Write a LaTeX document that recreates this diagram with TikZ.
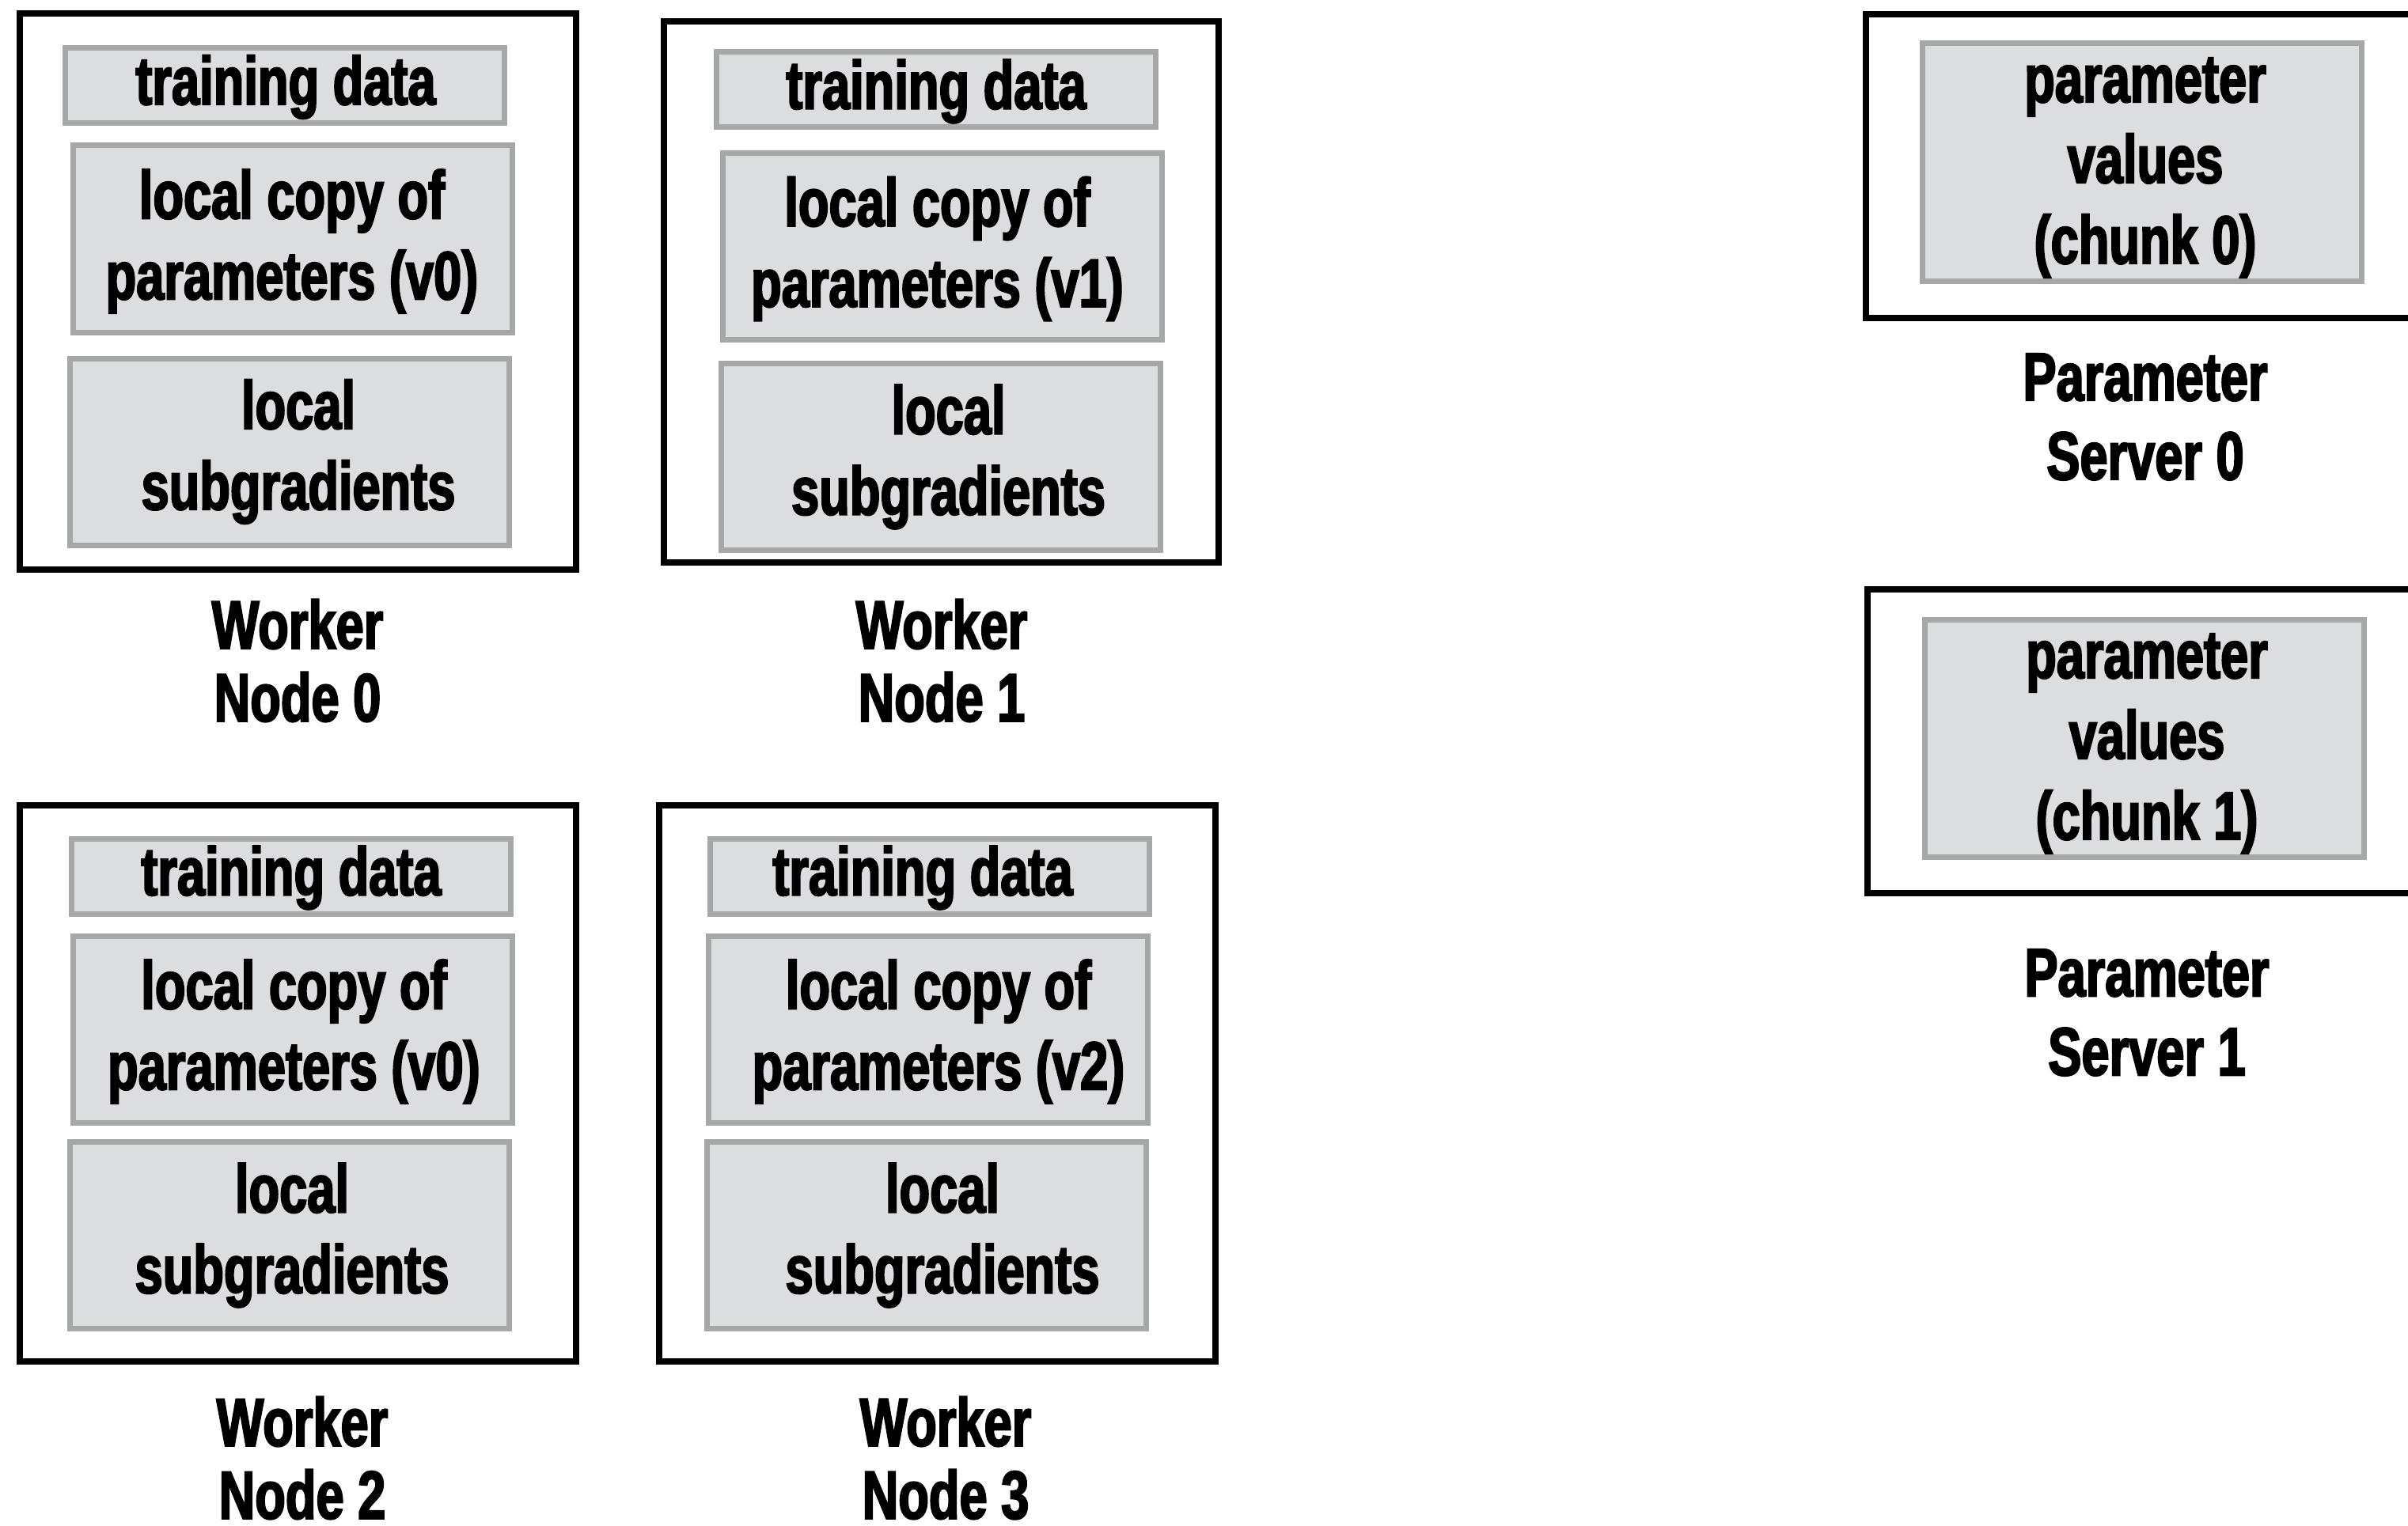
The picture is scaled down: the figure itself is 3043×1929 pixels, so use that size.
\documentclass[tikz,border=0pt]{standalone}
\usepackage{fontspec}
\setmainfont{Liberation Sans}[FakeStretch=0.735, FakeBold=2.5]
\usetikzlibrary{calc}
\definecolor{boxfill}{RGB}{220,221,223}
\definecolor{boxline}{RGB}{165,168,167}

\begin{document}
\begin{tikzpicture}[x=1pt,y=-1pt,
  frame/.style={draw=black, line width=8pt, fill=white, inner sep=0pt, rectangle},
  cell/.style={draw=boxline, line width=7pt, fill=boxfill, inner sep=0pt, rectangle, minimum width=555pt},
  datacell/.style={cell, minimum height=95pt},
  bigcell/.style={cell, minimum height=236pt},
  txt/.style={font=\fontsize{86}{102}\selectfont\bfseries, align=center, inner sep=0pt},
  caption/.style={font=\fontsize{86}{92}\selectfont\bfseries, align=center, inner sep=0pt},
  servercaption/.style={caption, font=\fontsize{86}{100}\selectfont\bfseries}]

\useasboundingbox (0,0) rectangle (3043,1929);
\clip (0,0) rectangle (3043,1929);

% ---------- Worker Node 0 ----------
\node[frame, minimum width=703pt, minimum height=703pt] (w0) at (376.5,368.5) {};
\node[datacell] (w0data)  at (360,108) {};
\node[bigcell]  (w0param) at (370,302) {};
\node[bigcell]  (w0grad)  at (366,571) {};
\node[txt] (w0dataT)  at ($(w0data)+(1,2)$)  {training data};
\node[txt] (w0paramT) at ($(w0param)+(-1,3)$) {local copy of\\parameters (v0)};
\node[txt] (w0gradT)  at ($(w0grad)+(11,0)$)  {local\\subgradients};
\node[caption] (w0cap) at (376,835) {Worker\\Node 0};

% ---------- Worker Node 1 ----------
\node[frame, minimum width=701pt, minimum height=684pt] (w1) at (1189.5,369) {};
\node[datacell] (w1data)  at (1183,113.5) {};
\node[bigcell]  (w1param) at (1190.5,311.5) {};
\node[bigcell]  (w1grad)  at (1188.5,577.5) {};
\node[txt] (w1dataT)  at ($(w1data)+(0,2)$)  {training data};
\node[txt] (w1paramT) at ($(w1param)+(-6,3)$) {local copy of\\parameters (v1)};
\node[txt] (w1gradT)  at ($(w1grad)+(10,0)$)  {local\\subgradients};
\node[caption] (w1cap) at (1190,835) {Worker\\Node 1};

% ---------- Worker Node 2 ----------
\node[frame, minimum width=703pt, minimum height=703pt] (w2) at (376.5,1369) {};
\node[datacell] (w2data)  at (368,1107.5) {};
\node[bigcell]  (w2param) at (369.5,1301) {};
\node[bigcell]  (w2grad)  at (366,1561.5) {};
\node[txt] (w2dataT)  at ($(w2data)+(0,2)$)  {training data};
\node[txt] (w2paramT) at ($(w2param)+(2,3)$) {local copy of\\parameters (v0)};
\node[txt] (w2gradT)  at ($(w2grad)+(3,0)$)  {local\\subgradients};
\node[caption] (w2cap) at (382,1843) {Worker\\Node 2};

% ---------- Worker Node 3 ----------
\node[frame, minimum width=703pt, minimum height=703pt] (w3) at (1184,1369) {};
\node[datacell] (w3data)  at (1175,1107.5) {};
\node[bigcell]  (w3param) at (1173,1301) {};
\node[bigcell]  (w3grad)  at (1171,1561.5) {};
\node[txt] (w3dataT)  at ($(w3data)+(-9,2)$)  {training data};
\node[txt] (w3paramT) at ($(w3param)+(13,3)$) {local copy of\\parameters (v2)};
\node[txt] (w3gradT)  at ($(w3grad)+(20,0)$)  {local\\subgradients};
\node[caption] (w3cap) at (1195,1843) {Worker\\Node 3};

% ---------- Parameter Server 0 (frame runs past the right edge) ----------
\node[frame, minimum width=743pt, minimum height=384pt] (ps0) at (2729,210) {};
\node[cell, minimum height=300pt] (ps0val) at (2707,205) {};
\node[txt] (ps0valT) at ($(ps0val)+(4,7)$) {parameter\\values\\(chunk 0)};
\node[servercaption] (ps0cap) at (2711,527) {Parameter\\Server 0};

% ---------- Parameter Server 1 ----------
\node[frame, minimum width=743pt, minimum height=384pt] (ps1) at (2731,937) {};
\node[cell, minimum height=300pt] (ps1val) at (2710,933) {};
\node[txt] (ps1valT) at ($(ps1val)+(3,7)$) {parameter\\values\\(chunk 1)};
\node[servercaption] (ps1cap) at (2713,1280) {Parameter\\Server 1};

\end{tikzpicture}
\end{document}
